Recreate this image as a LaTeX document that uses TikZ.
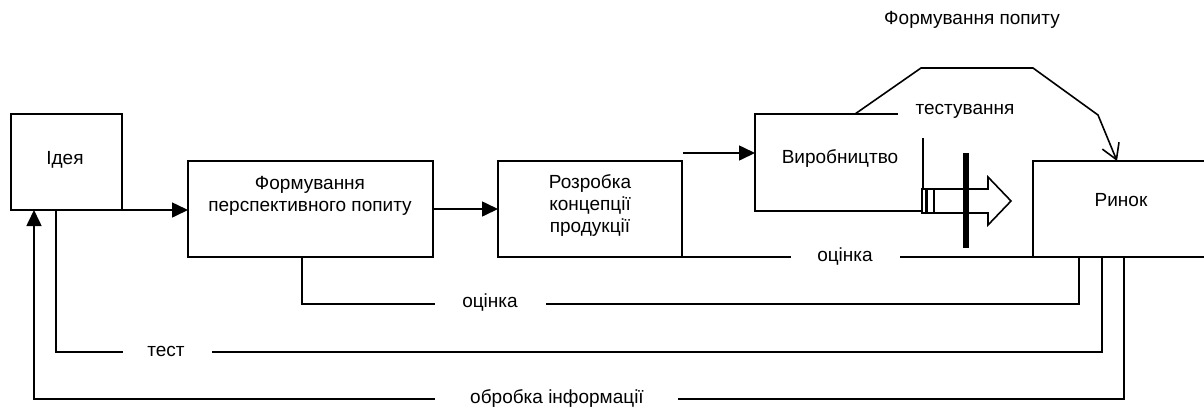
\documentclass[tikz,border=0pt]{standalone}
\usepackage{fontspec}
\setmainfont{Liberation Sans}
\usetikzlibrary{arrows.meta}
\begin{document}
\begin{tikzpicture}[x=0.5pt,y=-0.5pt,
  box/.style={draw,line width=0.8pt,inner sep=0pt,outer sep=0pt,anchor=north west},
  lbl/.style={font=\fontsize{9.5}{11}\selectfont,align=center,inner sep=0pt},
  conn/.style={line width=0.8pt},
  farrow/.style={conn,-{Triangle[length=8pt,width=7.5pt]}},
  barb/.style={conn,-{Straight Barb[length=7.5pt,width=9pt]}},
]
\useasboundingbox (0,0) rectangle (1204,408);

% boxes
\node[box,minimum width=55.5pt,minimum height=48pt] (idea) at (11,114) {};
\node[box,minimum width=122.5pt,minimum height=48pt] (form) at (188,161) {};
\node[box,minimum width=92pt,minimum height=48pt] (razr) at (498,161) {};

% Vyrobnytstvo (open box)
\coordinate (vtr) at (898,114);
\coordinate (vtl) at (755,114);
\coordinate (vbl) at (755,211);
\coordinate (vbr) at (922,211);
\draw[conn] (vtr) -- (vtl) -- (vbl) -- (vbr);

% Rynok (open to the right)
\coordinate (rtr) at (1204,161);
\coordinate (rtl) at (1033,161);
\coordinate (rbl) at (1033,257);
\coordinate (rbr) at (1204,257);
\draw[conn] (rtr) -- (rtl) -- (rbl) -- (rbr);

% texts
\node[lbl] (tidea) at (65,160) {Ідея};
\node[lbl] (tform) at (310,196) {Формування\\перспективного попиту};
\node[lbl] (trazr) at (590,205) {Розробка\\концепції\\продукції};
\node[lbl] (tvyr) at (840,158) {Виробництво};
\node[lbl] (trynok) at (1121,200) {Ринок};
\node[lbl] (ttest) at (965,111) {тестування};
\node[lbl] (tfp) at (972,20) {Формування попиту};
\node[lbl] (tocin1) at (845,257) {оцінка};
\node[lbl] (tocin2) at (490,303) {оцінка};
\node[lbl] (ttst) at (166,351) {тест};
\node[lbl] (tobr) at (557,398) {обробка інформації};

% main flow arrows
\draw[farrow] (idea.south east) -- (idea.south east -| form.west);
\draw[farrow] (form.east) -- (razr.west);
\coordinate (r1) at (683,153);
\draw[farrow] (r1) -- (r1 -| vtl);

% demand formation connector
\coordinate (d0) at (855,114);
\coordinate (d1) at (921,68);
\coordinate (d2) at (1033,68);
\coordinate (d3) at (1098,115);
\coordinate (d4) at (1117,161);
\draw[barb] (d0) -- (d1) -- (d2) -- (d3) -- (d4);

% testing marker
\coordinate (tm0) at (923,138);
\coordinate (tm1) at (923,189);
\draw[conn] (tm0) -- (tm1);
\draw[line width=0.6pt] (922,189) rectangle (926,213);
\draw[line width=0.6pt] (927,189) rectangle (934,213);
\draw[conn,line join=miter] (934,189) -- (988,189) -- (988,177) -- (1011,201) -- (988,225) -- (988,213) -- (934,213);
\draw[line width=2.6pt] (966,153) -- (966,248);

% feedback: ocinka 1
\coordinate (o1a) at (791,257);
\coordinate (o1b) at (900,257);
\draw[conn] (razr.south east) -- (o1a);
\draw[conn] (o1b) -- (rbl);

% feedback: ocinka 2
\coordinate (o2s) at (302,257);
\coordinate (o2a) at (302,304);
\coordinate (o2b) at (435,304);
\coordinate (o2c) at (546,304);
\coordinate (o2d) at (1079,304);
\coordinate (o2e) at (1079,257);
\draw[conn] (o2s) -- (o2a) -- (o2b);
\draw[conn] (o2c) -- (o2d) -- (o2e);

% feedback: test
\coordinate (t0) at (56,210);
\coordinate (t1) at (56,352);
\coordinate (t2) at (123,352);
\coordinate (t3) at (212,352);
\coordinate (t4) at (1102,352);
\coordinate (t5) at (1102,257);
\draw[conn] (t0) -- (t1) -- (t2);
\draw[conn] (t3) -- (t4) -- (t5);

% feedback: information processing
\coordinate (p0) at (1124,257);
\coordinate (p1) at (1124,399);
\coordinate (p2) at (678,399);
\coordinate (p3) at (435,399);
\coordinate (p4) at (34,399);
\coordinate (p5) at (34,210);
\draw[conn] (p0) -- (p1) -- (p2);
\draw[farrow] (p3) -- (p4) -- (p5);
\end{tikzpicture}
\end{document}
